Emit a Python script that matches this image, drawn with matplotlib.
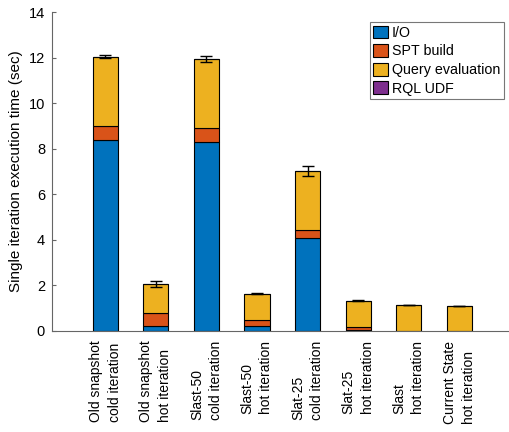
import numpy as np
import matplotlib
matplotlib.use("Agg")
import matplotlib.pyplot as plt

plt.rcParams['font.family'] = ['Liberation Sans', 'DejaVu Sans']

# data
categories = [
    "Old snapshot\ncold iteration",
    "Old snapshot\nhot iteration",
    "Slast-50\ncold iteration",
    "Slast-50\nhot iteration",
    "Slat-25\ncold iteration",
    "Slat-25\nhot iteration",
    "Slast\nhot iteration",
    "Current State\nhot iteration",
]
io_time = [8.38, 0.20, 8.28, 0.20, 4.07, 0.03, 0.0, 0.0]
spt_build = [0.62, 0.57, 0.62, 0.27, 0.35, 0.14, 0.0, 0.0]
query_eval = [3.05, 1.30, 3.04, 1.17, 2.60, 1.16, 1.14, 1.10]
rql_udf = [0.0, 0.0, 0.0, 0.0, 0.0, 0.0, 0.0, 0.0]
err = [0.05, 0.12, 0.15, 0.04, 0.21, 0.02, 0.01, 0.01]

series = [
    ("I/O", io_time, "#0072BD"),
    ("SPT build", spt_build, "#D95319"),
    ("Query evaluation", query_eval, "#EDB120"),
    ("RQL UDF", rql_udf, "#7E2F8E"),
]

fig = plt.figure(figsize=(5.1, 4.32), dpi=100)
ax = fig.add_axes([0.102, 0.234, 0.898, 0.738])

x = np.arange(1, len(categories) + 1)
bottom = np.zeros(len(categories))
for name, vals, color in series:
    vals = np.array(vals)
    ax.bar(x, vals, width=0.5, bottom=bottom, color=color,
           edgecolor="black", linewidth=0.8, label=name)
    bottom += vals

ax.errorbar(x, bottom, yerr=err, fmt="none", ecolor="black",
            elinewidth=1, capsize=4, capthick=1)

ax.set_xlim(-0.05, 9)
ax.set_ylim(0, 14)
ax.set_yticks(range(0, 15, 2))
ax.set_xticks(x)
ax.set_xticklabels(categories, rotation=90, ha="center", va="top",
                   multialignment="left", fontsize=10, linespacing=1.45)
ax.tick_params(axis="y", labelsize=10.5, direction="in", length=3, pad=5,
               color="#666666", labelcolor="black")
ax.tick_params(axis="x", length=0, pad=7)
ax.set_ylabel("Single iteration execution time (sec)", fontsize=11)

for side in ["top", "right"]:
    ax.spines[side].set_visible(False)
for side in ["left", "bottom"]:
    ax.spines[side].set_color("#666666")
    ax.spines[side].set_linewidth(0.8)

leg = ax.legend(loc="upper right", bbox_to_anchor=(0.987, 0.969),
                fontsize=10.3, frameon=True, fancybox=False,
                handlelength=1.0, handleheight=1.0, handletextpad=0.3,
                labelspacing=0.3, borderpad=0.25, borderaxespad=0)
leg.get_frame().set_edgecolor("#555555")
leg.get_frame().set_linewidth(0.8)

fig.savefig("out.png", dpi=100)
